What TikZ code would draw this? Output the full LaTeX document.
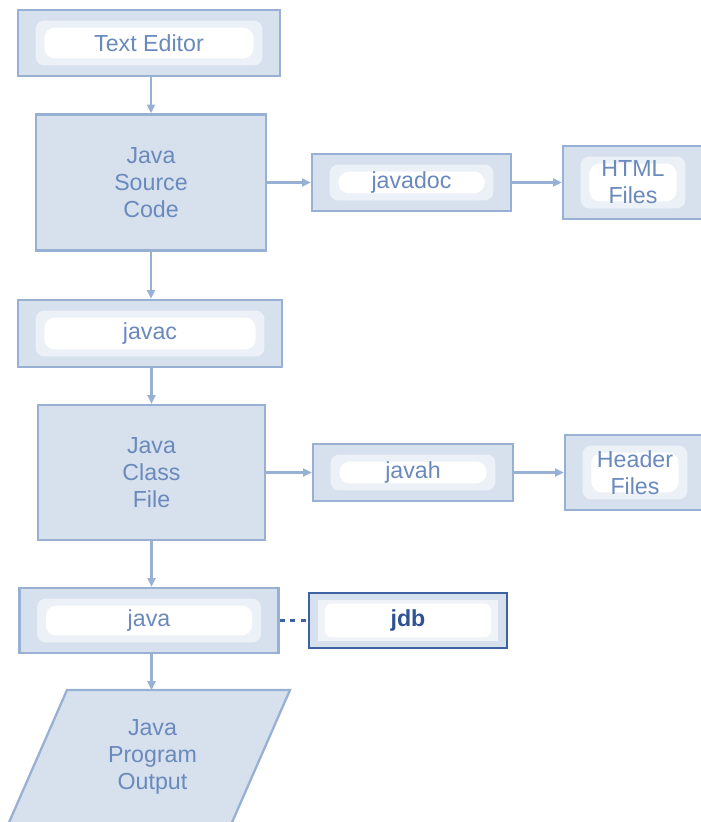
\documentclass[tikz,border=0pt]{standalone}
\usepackage{fontspec}
\usepackage{tikz}
\setmainfont{Liberation Sans}
\usetikzlibrary{arrows.meta}
\usetikzlibrary{positioning}
\definecolor{boxfill}{HTML}{D7E1EE}
\definecolor{boxline}{HTML}{98B0D3}
\definecolor{boxtext}{HTML}{6A89BC}
\definecolor{dbline}{HTML}{3F62A3}
\definecolor{dbtext}{HTML}{2E5294}
\tikzset{
  stepbox/.style={draw=boxline, line width=1.3pt, fill=boxfill, text=boxtext,
    align=center, inner sep=0pt, font=\fontsize{13.2}{15.4}\selectfont},
  glowbox/.style={stepbox,
    path picture={
      \fill[white, opacity=0.55, rounded corners=5pt] ([xshift=10pt,yshift=-6pt]path picture bounding box.north west) rectangle ([xshift=-10pt,yshift=6pt]path picture bounding box.south east);
      \fill[white, rounded corners=6pt] ([xshift=15pt,yshift=-10pt]path picture bounding box.north west) rectangle ([xshift=-15pt,yshift=10pt]path picture bounding box.south east);
    }},
  dbbox/.style={stepbox, draw=dbline, line width=1.6pt, text=dbtext, font=\fontsize{13.2}{15.4}\selectfont\bfseries,
    path picture={
      \fill[white, opacity=0.6] ([xshift=5pt,yshift=-4pt]path picture bounding box.north west) rectangle ([xshift=-5pt,yshift=4pt]path picture bounding box.south east);
      \fill[white, rounded corners=4pt] ([xshift=9pt,yshift=-6pt]path picture bounding box.north west) rectangle ([xshift=-9pt,yshift=6pt]path picture bounding box.south east);
    }},
  flow/.style={draw=boxline, line width=1.3pt, -{Triangle[length=5pt,width=4.5pt]}},
}
\begin{document}
\begin{tikzpicture}[y=-1cm]
  \useasboundingbox (0,0) rectangle (14.02,16.44);
  \clip (0,0) rectangle (14.02,16.44);
  %main column
  \node[glowbox, minimum width=5.24cm, minimum height=1.32cm] (te) at (2.98,0.86) {Text Editor};
  \node[stepbox, minimum width=4.6cm, minimum height=2.72cm] (src) at (3.02,3.65) {Java\\Source\\Code};
  \node[glowbox, minimum width=5.28cm, minimum height=1.34cm] (javac) at (3.0,6.67) {javac};
  \node[stepbox, minimum width=4.54cm, minimum height=2.7cm] (cls) at (3.03,9.45) {Java\\Class\\File};
  \node[glowbox, minimum width=5.18cm, minimum height=1.3cm] (java) at (2.98,12.41) {java};
  %output parallelogram
  \draw[draw=boxline, line width=1.3pt, fill=boxfill] (1.34,13.8) -- (5.8,13.8) -- (4.53,16.7) -- (0.07,16.7) -- cycle;
  \coordinate (outtop) at (3.03,13.8);
  \node[text=boxtext, align=center, font=\fontsize{13.2}{15.4}\selectfont] (out) at (3.05,15.14) {Java\\Program\\Output};
  %tools on the right
  \node[glowbox, minimum width=3.98cm, minimum height=1.14cm] (jdoc) at (8.23,3.65) {javadoc};
  \node[glowbox, minimum width=2.8cm, minimum height=1.46cm] (html) at (12.66,3.65) {HTML\\Files};
  \node[glowbox, minimum width=4.0cm, minimum height=1.14cm] (jh) at (8.26,9.45) {javah};
  \node[glowbox, minimum width=2.8cm, minimum height=1.5cm] (hdr) at (12.7,9.45) {Header\\Files};
  \node[dbbox, minimum width=3.96cm, minimum height=1.1cm] (jdb) at (8.16,12.41) {jdb};
  %connectors
  \draw[flow] (te.south -| src.north) -- (src.north);
  \draw[flow] (src.south) -- (src.south |- javac.north);
  \draw[flow] (javac.south -| cls.north) -- (cls.north);
  \draw[flow] (cls.south) -- (cls.south |- java.north);
  \draw[flow] (java.south -| outtop) -- (outtop);
  \draw[flow] (src) -- (jdoc);
  \draw[flow] (jdoc) -- (html);
  \draw[flow] (cls) -- (jh);
  \draw[flow] (jh) -- (hdr);
  \draw[draw=dbline, line width=1.3pt, dashed] (java) -- (jdb);
\end{tikzpicture}
\end{document}
